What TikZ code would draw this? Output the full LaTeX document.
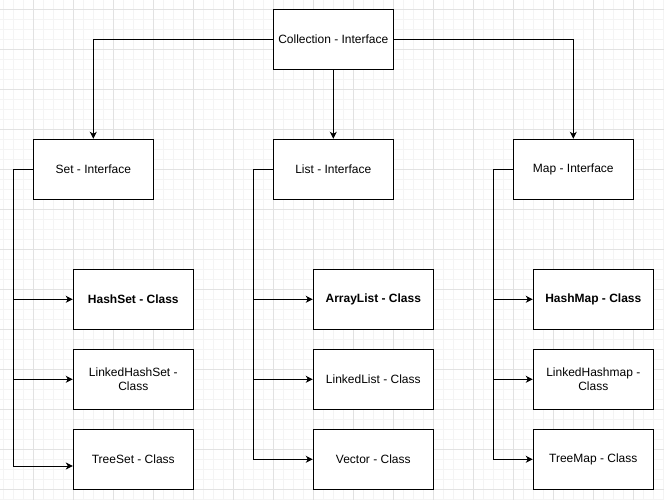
\documentclass[tikz,border=0pt]{standalone}
\usepackage{fontspec}
\setmainfont{Liberation Sans}
\usetikzlibrary{arrows.meta,positioning}
\begin{document}
\begin{tikzpicture}[x=1pt,y=-1pt,
  box/.style={draw=black,fill=white,line width=1pt,minimum width=120pt,minimum height=60pt,inner sep=2pt,align=center,font=\fontsize{12pt}{14pt}\selectfont},
  boldbox/.style={box,font=\fontsize{12pt}{14pt}\selectfont\bfseries},
  conn/.style={line width=1pt,draw=black},
  arr/.style={conn,-{Stealth[length=7pt,width=7pt,inset=2pt]}},
  minorgrid/.style={draw={rgb,255:red,244;green,244;blue,244},line width=1pt},
  majorgrid/.style={draw={rgb,255:red,226;green,226;blue,226},line width=1pt}]
\useasboundingbox (0,0) rectangle (664,500);
\fill[white] (0,0) rectangle (664,500);
% grid
\foreach \x in {3.3,13.3,...,663.4} \draw[minorgrid] (\x,0) -- (\x,500);
\foreach \y in {9.3,19.3,...,499.4} \draw[minorgrid] (0,\y) -- (664,\y);
\foreach \x in {33.3,73.3,...,663.4} \draw[majorgrid] (\x,0) -- (\x,500);
\foreach \y in {9.3,49.3,...,499.4} \draw[majorgrid] (0,\y) -- (664,\y);
% nodes
\node[box] (coll) at (333.3,39.3) {Collection - Interface};
\node[box] (set) at (93.3,169.3) {Set - Interface};
\node[box] (list) at (333.3,169.3) {List - Interface};
\node[box] (map) at (573.3,169.3) {Map - Interface};
\node[boldbox] (hs) at (133.3,299.3) {HashSet - Class};
\node[box] (lhs) at (133.3,379.3) {LinkedHashSet -\\Class};
\node[box] (ts) at (133.3,459.3) {TreeSet - Class};
\node[boldbox] (al) at (373.3,299.3) {ArrayList - Class};
\node[box] (ll) at (373.3,379.3) {LinkedList - Class};
\node[box] (vec) at (373.3,459.3) {Vector - Class};
\node[boldbox] (hm) at (593.3,299.3) {HashMap - Class};
\node[box] (lhm) at (593.3,379.3) {LinkedHashmap -\\Class};
\node[box] (tm) at (593.3,459.3) {TreeMap - Class};
% junctions
\coordinate (sj) at (13.3,169.3);
\coordinate (lj) at (253.3,169.3);
\coordinate (mj) at (493.3,169.3);
% top connectors
\draw[arr] (coll.west) -| (set.north);
\draw[arr] (coll.south) -- (list.north);
\draw[arr] (coll.east) -| (map.north);
% set branch
\draw[conn] (set.west) -- (sj);
\draw[arr] (sj) |- (hs.west);
\draw[arr] (sj) |- (lhs.west);
\draw[arr] (sj) |- ([yshift=-6.7pt]ts.west);
% list branch
\draw[conn] (list.west) -- (lj);
\draw[arr] (lj) |- (al.west);
\draw[arr] (lj) |- (ll.west);
\draw[arr] (lj) |- (vec.west);
% map branch
\draw[conn] (map.west) -- (mj);
\draw[arr] (mj) |- (hm.west);
\draw[arr] (mj) |- (lhm.west);
\draw[arr] (mj) |- (tm.west);
\end{tikzpicture}
\end{document}
